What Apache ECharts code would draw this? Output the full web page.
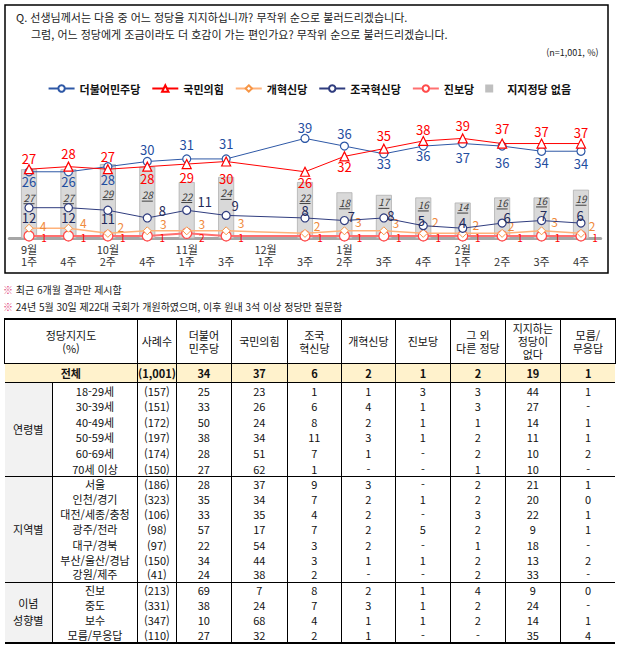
<!DOCTYPE html>
<html lang="ko">
<head>
<meta charset="utf-8">
<script src="https://cdn.jsdelivr.net/npm/echarts@6/dist/echarts.min.js"></script>
<style>
html,body{margin:0;padding:0;background:#fff;}
body{font-family:"Noto Sans CJK KR","Noto Sans",sans-serif;color:#111;width:618px;height:649px;position:relative;overflow:hidden;}
#chart{position:absolute;left:0;top:0;width:618px;height:280px;}
.note{position:absolute;left:3px;font-size:10px;line-height:12px;white-space:nowrap;color:#222;}
.note span{color:#E0457B;}
#tbl{position:absolute;left:4px;top:318px;border-collapse:collapse;table-layout:fixed;font-size:11px;color:#111;}
#tbl td{padding:0;text-align:center;vertical-align:middle;white-space:nowrap;overflow:hidden;line-height:13px;}
#tbl tr.head td{border:1px solid #000;border-top:2px solid #000;height:43px;}
#tbl tr.total td{background:#FFF2CC;font-weight:bold;border-left:1px solid #000;border-right:1px solid #000;border-bottom:1px solid #000;height:18px;}
#tbl tr.body td{border-left:1px solid #000;border-right:1px solid #000;line-height:14px;}
#tbl tr.total td:first-child, #tbl tr.body td:first-child{border-left:none;}
#tbl tr.total td:last-child, #tbl tr.body td:last-child{border-right:none;}
#tbl tr.body td.grp{background:#F2F2F2;}
#tbl tr.last td{border-bottom:1px solid #000;}
#tbl tr.final td{border-bottom:2px solid #000;}
</style>
</head>
<body>
<div id="chart"></div>
<div class="note" style="top:284px;"><span>※</span> 최근 6개월 결과만 제시함</div>
<div class="note" style="top:301px;"><span>※</span> 24년 5월 30일 제22대 국회가 개원하였으며, 이후 원내 3석 이상 정당만 질문함</div>
<table id="tbl"></table>
<script>
// ---------- chart data ----------
const weeks = ['9월\n1주','\n4주','10월\n2주','\n4주','11월\n1주','\n3주','12월\n1주','\n3주','1월\n2주','\n3주','\n4주','2월\n1주','\n2주','\n3주','\n4주'];
const seriesNames = ['더불어민주당','국민의힘','개혁신당','조국혁신당','진보당','지지정당 없음'];
const dem = [26,26,28,30,31,31,null,39,36,33,36,37,36,34,34];
const ppp = [27,28,27,28,29,30,null,26,32,35,38,39,37,37,37];
const reform = [4,4,2,3,3,3,null,2,3,3,2,2,2,3,2];
const rebuild = [12,12,11,8,11,9,null,8,7,8,5,4,6,7,6];
const progressive = [1,1,1,1,2,1,null,1,1,1,1,1,1,1,1];
const noParty = [27,27,29,28,22,24,null,22,18,17,16,14,16,16,19];

// ---------- label layout (style only) ----------
const demLblDy = [10,10,13,-12,-14,-15,0,-11,-13,10,9,14,16,11,12];
const pppLblDy = [-11,-13,-13,12,13,17,0,11,10,-13,-11,-13,-15,-12,-11];
const rebuildLblOff = [[0,10],[0,10],[0,8],[15,-7],[18,-9],[9,-10],[0,0],[0,-7],[7,-4],[7,-2],[-2,-5],[0,-6],[5,-6],[2,-5],[-1,-8]];
const reformLblOff = [[14,-3],[15,-6],[13,-7],[16,-7],[15,-7],[15,-8],[0,0],[12,-8],[14,-9],[12,-8],[12,-12],[13,-9],[9,-8],[13,-9],[11,-8]];
const progLblOff = [[15,2],[15,2],[15,2],[15,2],[15,4],[15,2],[0,0],[15,2],[15,2],[15,2],[15,2],[15,2],[18,2],[16,2],[14,2]];
const barLblDy = [28,28,29,28,14,16,0,15,10,7,7,4,5,3,9];

// ---------- table data ----------
const colHeads = ['사례수','더불어\n민주당','국민의힘','조국\n혁신당','개혁신당','진보당','그 외\n다른 정당','지지하는\n정당이\n없다','모름/\n무응답'];
const colWidths = [48,85,37,55,56,54,54,55,55,55,55];
const totalRow = ['(1,001)','34','37','6','2','1','2','19','1'];
const ageLabels = ['18-29세','30-39세','40-49세','50-59세','60-69세','70세 이상'];
const ageRows = [
  ['(157)','25','23','1','1','3','3','44','1'],
  ['(151)','33','26','6','4','1','3','27','-'],
  ['(172)','50','24','8','2','1','1','14','1'],
  ['(197)','38','34','11','3','1','2','11','1'],
  ['(174)','28','51','7','1','-','2','10','2'],
  ['(150)','27','62','1','-','-','1','10','-']
];
const regionLabels = ['서울','인천/경기','대전/세종/충청','광주/전라','대구/경북','부산/울산/경남','강원/제주'];
const regionRows = [
  ['(186)','28','37','9','3','-','2','21','1'],
  ['(323)','35','34','7','2','1','2','20','0'],
  ['(106)','33','35','4','2','-','3','22','1'],
  ['(98)','57','17','7','2','5','2','9','1'],
  ['(97)','22','54','3','2','-','1','18','-'],
  ['(150)','34','44','3','1','1','2','13','2'],
  ['(41)','24','38','2','-','-','2','33','-']
];
const ideoLabels = ['진보','중도','보수','모름/무응답'];
const ideoRows = [
  ['(213)','69','7','8','2','1','4','9','0'],
  ['(331)','38','24','7','3','1','2','24','-'],
  ['(347)','10','68','4','1','1','2','14','1'],
  ['(110)','27','32','2','1','-','-','35','4']
];
const groupNames = ['연령별','지역별','이념\n성향별'];
const groupRowHeights = [15.7, 15.1, 15.1];

// ---------- build table ----------
(function(){
  const t = document.getElementById('tbl');
  const br = s => s.split('\n').join('<br>');
  let h = '<colgroup>' + colWidths.map(w=>'<col style="width:'+w+'px">').join('') + '</colgroup>';
  h += '<tr class="head"><td colspan="2">정당지지도<br>(%)</td>' + colHeads.map(c=>'<td>'+br(c)+'</td>').join('') + '</tr>';
  h += '<tr class="total"><td colspan="2">전체</td>' + totalRow.map(v=>'<td>'+v+'</td>').join('') + '</tr>';
  const groups = [[ageLabels,ageRows],[regionLabels,regionRows],[ideoLabels,ideoRows]];
  groups.forEach((g,gi)=>{
    const labels=g[0], rows=g[1];
    rows.forEach((r,ri)=>{
      const isLast = ri===rows.length-1;
      const cls = 'body' + (isLast ? (gi===groups.length-1 ? ' final' : ' last') : '');
      h += '<tr class="'+cls+'" style="height:'+groupRowHeights[gi]+'px">';
      if(ri===0) h += '<td class="grp" rowspan="'+rows.length+'" style="border-bottom:'+(gi===groups.length-1?'2':'1')+'px solid #000;line-height:17px">'+br(groupNames[gi])+'</td>';
      h += '<td>'+labels[ri]+'</td>' + r.map(v=>'<td>'+v+'</td>').join('') + '</tr>';
    });
  });
  t.innerHTML = h;
})();

// ---------- chart ----------
const chart = echarts.init(document.getElementById('chart'), null, {renderer:'svg'});
const FONT = '"Noto Sans CJK KR","Noto Sans",sans-serif';

function lineData(vals, offFn){
  return vals.map((v,i)=> v==null ? null : {value:v, label:{offset: offFn(i)}});
}

const option = {
  animation:false,
  textStyle:{fontFamily:FONT},
  title:[
    {text:'Q. 선생님께서는 다음 중 어느 정당을 지지하십니까? 무작위 순으로 불러드리겠습니다.', left:11, top:6, textStyle:{fontSize:11, fontWeight:'normal', color:'#222', fontFamily:FONT}},
    {text:'그럼, 어느 정당에게 조금이라도 더 호감이 가는 편인가요? 무작위 순으로 불러드리겠습니다.', left:26, top:23, textStyle:{fontSize:11, fontWeight:'normal', color:'#222', fontFamily:FONT}},
    {text:'(n=1,001, %)', right:15, top:43, textStyle:{fontSize:9, fontWeight:'normal', color:'#222', fontFamily:FONT}}
  ],
  graphic:[{type:'rect', shape:{x:5, y:5, width:603, height:268}, style:{fill:'none', stroke:'#000', lineWidth:1.5}, silent:true}],
  legend:{
    top:78, left:'center', itemWidth:26, itemHeight:8, itemGap:11,
    textStyle:{fontSize:11, fontWeight:'bold', color:'#111', fontFamily:FONT},
    data:[
      {name:seriesNames[0]},{name:seriesNames[1]},{name:seriesNames[2]},{name:seriesNames[3]},{name:seriesNames[4]},
      {name:seriesNames[5], icon:'path://M0,0H10V10H0Z', itemStyle:{color:'#BFBFBF', borderWidth:0}}
    ]
  },
  grid:{left:9.3, right:17.3, top:123, bottom:41.5},
  xAxis:{
    type:'category', data:weeks, boundaryGap:true,
    axisLine:{lineStyle:{color:'#A6A6A6', width:3}},
    axisTick:{show:false},
    axisLabel:{fontSize:11, color:'#333', lineHeight:12, margin:4, interval:0, fontFamily:FONT}
  },
  yAxis:{type:'value', min:0, max:45, show:false, splitLine:{show:false}},
  series:[
    {
      name:seriesNames[5], type:'bar', barWidth:16, z:1,
      itemStyle:{color:'#D9D9D9', borderColor:'#B0B0B0', borderWidth:0.8},
      data: noParty.map((v,i)=> v==null ? null : {value:v, label:{offset:[0, barLblDy[i]-5.5]}}),
      label:{show:true, position:'insideTop', distance:0,
        formatter: p => '{n|'+p.value+'}\n{u| }',
        rich:{n:{fontSize:10, fontStyle:'italic', color:'#404040', lineHeight:11, align:'center', fontFamily:FONT},
              u:{width:11, height:1, lineHeight:2, fontSize:1, backgroundColor:'#404040', align:'center'}}}
    },
    {
      name:seriesNames[4], type:'line', z:3, connectNulls:true,
      symbol:'circle', symbolSize:10,
      lineStyle:{color:'#FF7070', width:2},
      itemStyle:{color:'#fff', borderColor:'#FF4A4A', borderWidth:1.3},
      data: lineData(progressive, i=>progLblOff[i]),
      label:{show:true, position:'inside', color:'#FF0000', fontSize:10, fontFamily:FONT}
    },
    {
      name:seriesNames[2], type:'line', z:4, connectNulls:true,
      symbol:'diamond', symbolSize:8,
      lineStyle:{color:'#FFB27A', width:1.5},
      itemStyle:{color:'#fff', borderColor:'#F79646', borderWidth:1},
      data: lineData(reform, i=>reformLblOff[i]),
      label:{show:true, position:'inside', color:'#F08A3C', fontSize:12, fontFamily:FONT}
    },
    {
      name:seriesNames[3], type:'line', z:5, connectNulls:true,
      symbol:'circle', symbolSize:8,
      lineStyle:{color:'#2F3C7E', width:1},
      itemStyle:{color:'#fff', borderColor:'#2F3C7E', borderWidth:1.2},
      data: lineData(rebuild, i=>rebuildLblOff[i]),
      label:{show:true, position:'inside', color:'#1F2A5A', fontSize:13, fontFamily:FONT}
    },
    {
      name:seriesNames[0], type:'line', z:6, connectNulls:true,
      symbol:'circle', symbolSize:8,
      lineStyle:{color:'#2E58A6', width:1},
      itemStyle:{color:'#fff', borderColor:'#2E58A6', borderWidth:1.2},
      data: lineData(dem, i=>[0, demLblDy[i]]),
      label:{show:true, position:'inside', color:'#1F4E9F', fontSize:13, fontFamily:FONT}
    },
    {
      name:seriesNames[1], type:'line', z:7, connectNulls:true,
      symbol:'triangle', symbolSize:9,
      lineStyle:{color:'#FF0000', width:1},
      itemStyle:{color:'#fff', borderColor:'#FF0000', borderWidth:1.2},
      data: lineData(ppp, i=>[0, pppLblDy[i]]),
      label:{show:true, position:'inside', color:'#FF0000', fontSize:13, fontFamily:FONT}
    }
  ]
};
chart.setOption(option);
</script>
</body>
</html>
